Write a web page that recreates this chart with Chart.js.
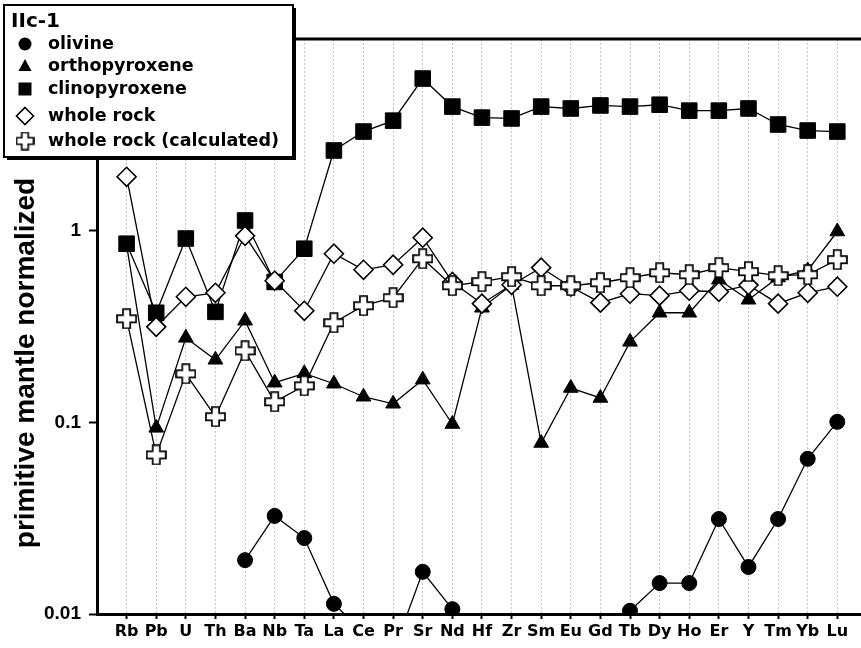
<!DOCTYPE html>
<html>
<head>
<meta charset="utf-8">
<script src="https://cdn.jsdelivr.net/npm/chart.js@4.4.1/dist/chart.umd.min.js"></script>
<style>
html, body { margin: 0; padding: 0; background: #fff; overflow: hidden; }
#wrap { position: relative; width: 861px; height: 648px; }
</style>
</head>
<body>
<div id="wrap"><canvas id="spider" width="861" height="648"></canvas></div>
<script>
// ==================== DATA ====================
const elements = ['Rb','Pb','U','Th','Ba','Nb','Ta','La','Ce','Pr','Sr','Nd','Hf','Zr','Sm','Eu','Gd','Tb','Dy','Ho','Er','Y','Tm','Yb','Lu'];

const olivine       = [null, null, null, null, 0.0191, 0.0325, 0.0249, 0.0113, 0.0080, 0.0063, 0.0166, 0.0106, null, null, null, null, null, 0.0104, 0.0145, 0.0145, 0.0313, 0.0176, 0.0313, 0.0645, 0.1006];
const orthopyroxene = [0.84, 0.0936, 0.276, 0.212, 0.339, 0.161, 0.18, 0.159, 0.136, 0.125, 0.167, 0.098, 0.396, 0.52, 0.078, 0.151, 0.134, 0.263, 0.373, 0.373, 0.555, 0.436, 0.57, 0.62, 0.99];
const clinopyroxene = [0.855, 0.373, 0.91, 0.377, 1.13, 0.54, 0.805, 2.62, 3.29, 3.75, 6.22, 4.44, 3.89, 3.85, 4.44, 4.34, 4.5, 4.44, 4.54, 4.23, 4.23, 4.34, 3.58, 3.33, 3.29];
const wholeRock     = [1.91, 0.315, 0.452, 0.474, 0.94, 0.548, 0.382, 0.758, 0.625, 0.664, 0.919, 0.54, 0.416, 0.522, 0.641, 0.51, 0.421, 0.469, 0.458, 0.486, 0.48, 0.52, 0.416, 0.474, 0.51];
const wholeRockCalc = [0.347, 0.0676, 0.179, 0.107, 0.236, 0.128, 0.155, 0.331, 0.406, 0.447, 0.714, 0.516, 0.542, 0.575, 0.516, 0.516, 0.535, 0.568, 0.603, 0.589, 0.641, 0.611, 0.582, 0.589, 0.706];

const yTicks = [0.01, 0.1, 1, 10];
const sampleName = 'IIc-1';
const yTitle = 'primitive mantle normalized';

// ==================== MARKERS ====================
// outlined plus sign used for "whole rock (calculated)"
function makeCross(size) {
    const c = document.createElement('canvas');
    c.width = size; c.height = size;
    const g = c.getContext('2d');
    const h = size / 2 - 1, w = h * 0.38, m = size / 2;
    g.translate(m, m);
    g.beginPath();
    g.moveTo(-w, -h); g.lineTo(w, -h); g.lineTo(w, -w); g.lineTo(h, -w);
    g.lineTo(h, w); g.lineTo(w, w); g.lineTo(w, h); g.lineTo(-w, h);
    g.lineTo(-w, w); g.lineTo(-h, w); g.lineTo(-h, -w); g.lineTo(-w, -w);
    g.closePath();
    g.fillStyle = '#fff';
    g.fill();
    g.lineWidth = 1.7;
    g.strokeStyle = '#000';
    g.stroke();
    return c;
}

const crossBig = makeCross(21);
const crossSmall = makeCross(19);

function series(label, values, style, radius, fill, order) {
    return {
        label: label,
        data: elements.map((el, i) => ({ x: i, y: values[i] })),
        borderColor: '#000',
        borderWidth: 1.3,
        fill: false,
        tension: 0,
        spanGaps: false,
        pointStyle: style,
        pointRadius: radius,
        pointHoverRadius: radius,
        pointBackgroundColor: fill,
        pointBorderColor: '#000',
        pointBorderWidth: fill === '#fff' ? 1.6 : 1,
        clip: { left: 12, top: 12, right: 12, bottom: 1 },
        order: order
    };
}

const datasets = [
    series('olivine', olivine, 'circle', 7.5, '#000', 4),
    series('orthopyroxene', orthopyroxene, 'triangle', 8.5, '#000', 2),
    series('clinopyroxene', clinopyroxene, 'rect', 11, '#000', 3),
    series('whole rock', wholeRock, 'rectRot', 9.5, '#fff', 1),
    series('whole rock (calculated)', wholeRockCalc, crossBig, 10, '#fff', 0)
];

// ==================== PLUGINS ====================
function legendMarker(ctx, label, x, y) {
    ctx.save();
    ctx.fillStyle = '#000';
    ctx.strokeStyle = '#000';
    ctx.lineWidth = 1.6;
    ctx.beginPath();
    if (label === 'olivine') {
        ctx.arc(x, y, 6.5, 0, Math.PI * 2);
        ctx.fill();
    } else if (label === 'orthopyroxene') {
        ctx.moveTo(x, y - 7); ctx.lineTo(x + 6.5, y + 5); ctx.lineTo(x - 6.5, y + 5);
        ctx.closePath(); ctx.fill();
    } else if (label === 'clinopyroxene') {
        ctx.rect(x - 6.5, y - 6.5, 13, 13); ctx.fill();
    } else if (label === 'whole rock') {
        ctx.moveTo(x, y - 8.5); ctx.lineTo(x + 8.5, y); ctx.lineTo(x, y + 8.5); ctx.lineTo(x - 8.5, y);
        ctx.closePath(); ctx.fillStyle = '#fff'; ctx.fill(); ctx.stroke();
    } else {
        ctx.drawImage(crossSmall, x - 9.5, y - 9.5);
    }
    ctx.restore();
}

const frameAndLegend = {
    id: 'frameAndLegend',
    afterDraw(chart) {
        const ctx = chart.ctx;
        const area = chart.chartArea;
        ctx.save();
        // top frame line
        ctx.strokeStyle = '#000';
        ctx.lineWidth = 3;
        ctx.beginPath();
        ctx.moveTo(area.left, area.top);
        ctx.lineTo(area.right, area.top);
        ctx.stroke();

        // y axis title
        ctx.save();
        ctx.translate(34, 363);
        ctx.rotate(-Math.PI / 2);
        ctx.font = 'bold 28px "Liberation Sans", Arial, sans-serif';
        ctx.fillStyle = '#000';
        ctx.textAlign = 'center';
        ctx.textBaseline = 'alphabetic';
        ctx.fillText(yTitle, 0, 0);
        ctx.restore();

        // legend box with drop shadow
        ctx.fillStyle = '#000';
        ctx.fillRect(7, 8, 289, 152);
        ctx.fillStyle = '#fff';
        ctx.fillRect(4, 5, 289, 152);
        ctx.lineWidth = 2;
        ctx.strokeRect(4, 5, 289, 152);

        ctx.fillStyle = '#000';
        ctx.textAlign = 'left';
        ctx.textBaseline = 'alphabetic';
        ctx.font = 'bold 20px "DejaVu Sans", sans-serif';
        ctx.fillText(sampleName, 11, 27);

        const rows = [44, 66, 89, 116, 141];
        ctx.font = 'bold 17.5px "DejaVu Sans", sans-serif';
        ctx.textBaseline = 'middle';
        datasets.forEach((ds, i) => {
            legendMarker(ctx, ds.label, 25, rows[i]);
            ctx.fillStyle = '#000';
            ctx.fillText(ds.label, 48, rows[i]);
        });
        ctx.restore();
    }
};

// ==================== CHART ====================
new Chart(document.getElementById('spider').getContext('2d'), {
    type: 'line',
    data: { datasets: datasets },
    options: {
        responsive: false,
        animation: false,
        devicePixelRatio: 1,
        layout: { autoPadding: false, padding: { top: 39, left: 0, right: 0, bottom: 0 } },
        plugins: {
            legend: { display: false },
            tooltip: { enabled: false }
        },
        scales: {
            x: {
                type: 'linear',
                min: -1,
                max: 24.8,
                afterBuildTicks: s => { s.ticks = elements.map((el, i) => ({ value: i })); },
                afterFit: s => { s.height = 34; s.paddingLeft = 0; s.paddingRight = 0; },
                ticks: {
                    autoSkip: false,
                    maxRotation: 0,
                    padding: 3,
                    color: '#000',
                    font: { family: '"DejaVu Sans", sans-serif', weight: 'bold', size: 16 },
                    callback: v => elements[v]
                },
                grid: {
                    color: '#c4c4c4',
                    lineWidth: 1,
                    tickColor: '#000',
                    tickWidth: 2,
                    tickLength: 5
                },
                border: { display: true, color: '#000', width: 3, dash: [2, 2] }
            },
            y: {
                type: 'logarithmic',
                min: 0.01,
                max: 10,
                afterBuildTicks: s => { s.ticks = yTicks.map(v => ({ value: v, major: true })); },
                afterFit: s => { s.width = 97; s.paddingTop = 0; s.paddingBottom = 0; },
                ticks: {
                    padding: 8,
                    color: '#000',
                    font: { family: '"Liberation Sans", Arial, sans-serif', weight: 'bold', size: 19 },
                    callback: v => String(v)
                },
                grid: {
                    drawOnChartArea: false,
                    tickColor: '#000',
                    tickWidth: 2,
                    tickLength: 8
                },
                border: { display: true, color: '#000', width: 3 }
            }
        }
    },
    plugins: [frameAndLegend]
});
</script>
</body>
</html>
